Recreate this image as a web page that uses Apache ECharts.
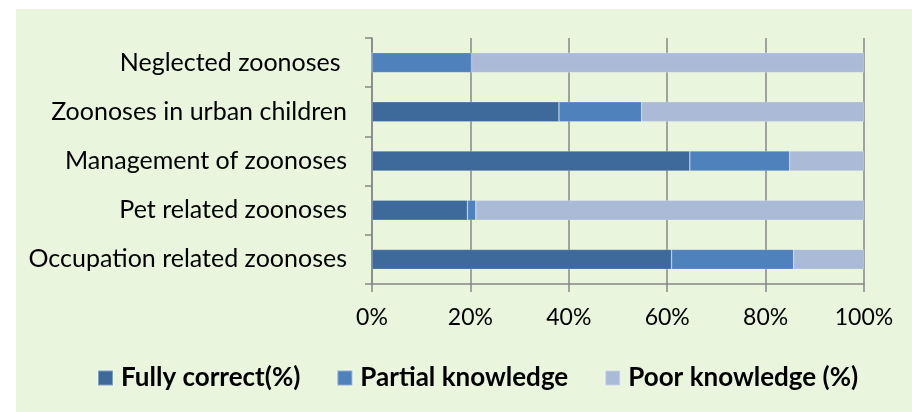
<!DOCTYPE html>
<html>
<head>
<meta charset="utf-8">
<script src="https://cdn.jsdelivr.net/npm/echarts@6/dist/echarts.min.js"></script>
<style>
  html, body { margin: 0; padding: 0; background: #ffffff; }
  #chart { width: 912px; height: 412px; }
</style>
</head>
<body>
<div id="chart"></div>
<script>
// Knowledge about zoonoses, stacked 100% horizontal bars.
// Category order is bottom -> top (ECharts category yAxis starts at the bottom).

const topics = [
  'Occupation related zoonoses',
  'Pet related zoonoses',
  'Management of zoonoses',
  'Zoonoses in urban children',
  'Neglected zoonoses '
]
const fullyCorrect = [60.9, 19.4, 64.6, 38.0, 0]
const partialKnowledge = [24.8, 1.7, 20.3, 16.8, 20.2]
const poorKnowledge = [14.3, 78.9, 15.1, 45.2, 79.8]
const seriesNames = ['Fully correct(%)', 'Partial knowledge', 'Poor knowledge (%)']
const xTicks = [0, 20, 40, 60, 80, 100]

const colors = ['#3e6a9b', '#4f81bd', '#aabad7']
const axisGray = '#878787'
const font = 'Lato, "Open Sans", sans-serif'

const chart = echarts.init(document.getElementById('chart'))

function bar(name, data, color) {
  return {
    name,
    type: 'bar',
    stack: 'total',
    data,
    barWidth: 20,
    itemStyle: { color, borderColor: 'rgba(255,255,255,0.35)', borderWidth: 0.6 },
    emphasis: { disabled: true }
  }
}

chart.setOption({
  backgroundColor: '#ffffff',
  animation: false,
  color: colors,
  graphic: [
    {
      type: 'rect',
      z: -10,
      silent: true,
      shape: { x: 16, y: 9, width: 896, height: 403 },
      style: { fill: '#e9f5dc' }
    }
  ],
  grid: { left: 372, right: 48, top: 38, bottom: 128 },
  legend: {
    data: seriesNames,
    left: 92,
    top: 360,
    itemWidth: 15,
    itemHeight: 15,
    itemGap: 36,
    icon: 'rect',
    textStyle: {
      fontFamily: font,
      fontSize: 26,
      fontWeight: 'bold',
      color: '#000000',
      padding: [0, 0, 0, 3]
    }
  },
  xAxis: {
    type: 'value',
    min: xTicks[0],
    max: xTicks[xTicks.length - 1],
    interval: 20,
    axisLine: { show: true, lineStyle: { color: axisGray, width: 1.5 } },
    axisTick: { show: true, length: 8, lineStyle: { color: axisGray, width: 1.5 } },
    splitLine: { show: true, lineStyle: { color: axisGray, width: 1.5 } },
    axisLabel: {
      formatter: '{value}%',
      margin: 22,
      fontFamily: font,
      fontSize: 23,
      color: '#000000'
    }
  },
  yAxis: {
    type: 'category',
    data: topics,
    axisLine: { show: true, lineStyle: { color: axisGray, width: 1.5 } },
    axisTick: { show: true, length: 7, lineStyle: { color: axisGray, width: 1.5 } },
    axisLabel: {
      margin: 25,
      fontFamily: font,
      fontSize: 25,
      color: '#000000'
    }
  },
  series: [
    bar(seriesNames[0], fullyCorrect, colors[0]),
    bar(seriesNames[1], partialKnowledge, colors[1]),
    bar(seriesNames[2], poorKnowledge, colors[2])
  ]
})
</script>
</body>
</html>
